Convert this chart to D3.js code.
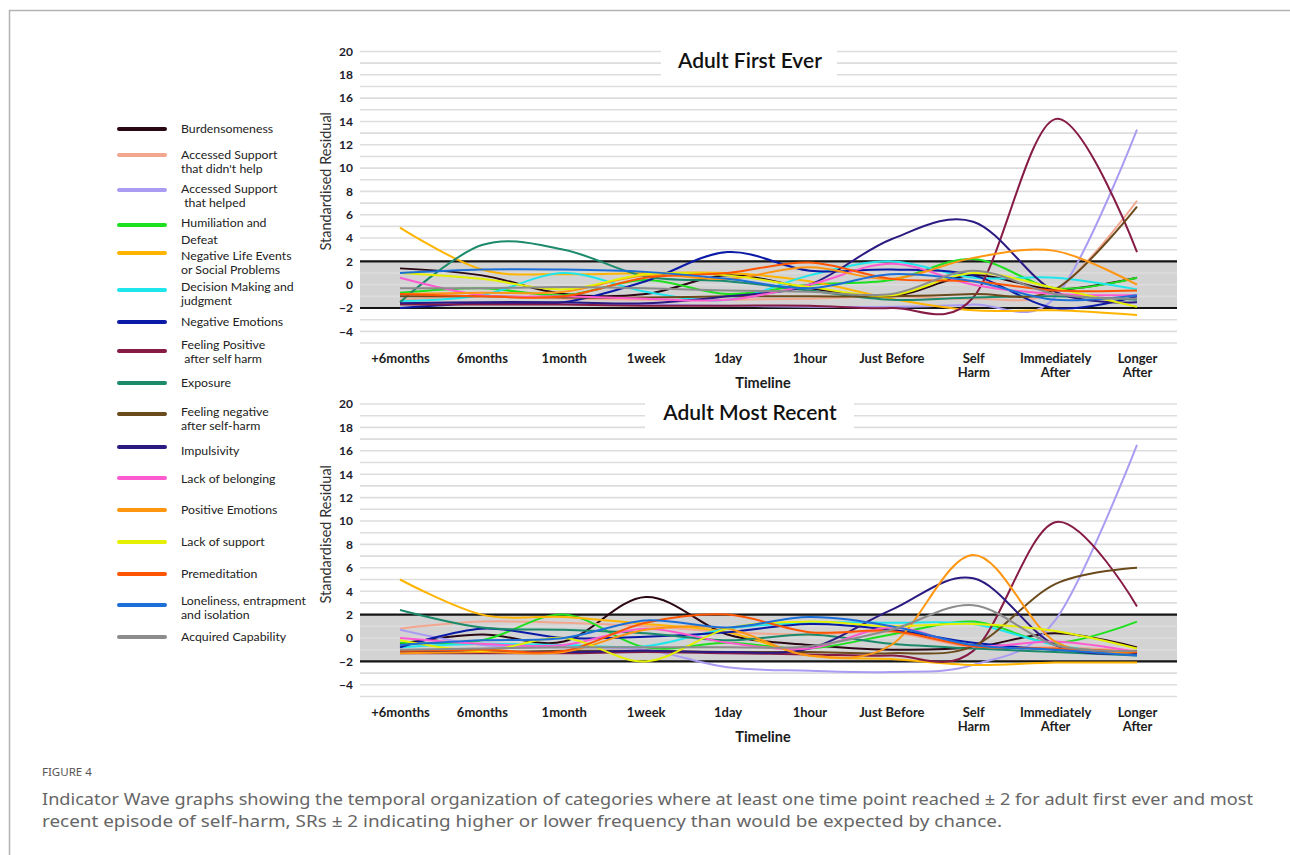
<!DOCTYPE html>
<html>
<head>
<meta charset="utf-8">
<script src="https://cdn.jsdelivr.net/npm/d3@7"></script>
<style>
  body { margin: 0; background: #fff; }
  svg { display: block; }
</style>
</head>
<body>
<svg id="fig" width="1290" height="855"></svg>
<script>
// Time points along the self-harm timeline
const timepoints = ["+6months", "6months", "1month", "1week", "1day", "1hour",
  "Just Before", "Self\nHarm", "Immediately\nAfter", "Longer\nAfter"];

// Indicator categories (legend order)
const categories = [
  "Burdensomeness",
  "Accessed Support\nthat didn't help",
  "Accessed Support\n that helped",
  "Humiliation and\nDefeat",
  "Negative Life Events\nor Social Problems",
  "Decision Making and\njudgment",
  "Negative Emotions",
  "Feeling Positive\n after self harm",
  "Exposure",
  "Feeling negative\nafter self-harm",
  "Impulsivity",
  "Lack of belonging",
  "Positive Emotions",
  "Lack of support",
  "Premeditation",
  "Loneliness, entrapment\nand isolation",
  "Acquired Capability"
];

const colors = [
  "#2a0714", "#f3a78f", "#a99cf2", "#1fe01f", "#ffb400", "#1fe6ec",
  "#0b1aa6", "#861b45", "#1b8a6b", "#6b4a1c", "#2b1a82", "#ff5bd0",
  "#ff9612", "#e4f000", "#ff5500", "#1d6fd8", "#8c8c8c"
];

const yTicks = [20, 18, 16, 14, 12, 10, 8, 6, 4, 2, 0, -2, -4];

// Standardised residuals, adult first ever episode (one row per category)
const firstEver = [
  [1.4, 0.8, -0.8, -0.8, 0.8, -0.3, -1.0, 0.8, -0.4, 0.6],
  [-1.3, -1.0, -1.2, -1.3, -1.3, -1.2, -1.0, -1.2, -0.5, 7.2],
  [-1.6, -1.6, -1.6, -1.7, -1.8, -1.9, -1.9, -1.7, -1.1, 13.3],
  [-0.7, -0.3, -0.9, 0.4, -0.8, 0.0, 0.4, 2.2, -0.3, 0.6],
  [4.9, 1.3, 0.9, 1.0, 1.0, 0.3, -1.2, -2.2, -2.2, -2.6],
  [-1.4, -0.9, 1.0, -0.6, -1.3, 0.8, 2.0, 0.6, 0.6, -0.4],
  [-2.0, -1.6, -1.5, 0.3, 2.8, 1.2, 1.3, 0.8, -2.0, -1.0],
  [-1.7, -1.7, -1.7, -1.8, -1.8, -1.8, -2.0, -1.1, 14.2, 2.8],
  [-1.5, 3.4, 3.0, 0.7, 0.3, -0.5, -1.3, -1.1, -1.0, -1.3],
  [-1.0, -1.0, -1.1, -1.1, -1.0, -1.0, -1.0, -0.8, -0.4, 6.7],
  [-1.6, -1.5, -1.5, -1.6, -1.0, 0.0, 3.9, 5.4, -0.6, -1.5],
  [0.6, -0.9, -1.0, -1.2, -1.3, 0.0, 1.8, 0.0, -0.8, -0.9],
  [-0.8, -0.7, -0.6, 0.8, 0.5, 1.5, 0.5, 2.3, 2.9, 0.0],
  [1.0, 0.5, -0.4, 0.9, 0.8, -0.2, -0.9, 1.0, -0.3, -1.9],
  [-0.8, -1.0, -1.0, 0.6, 1.0, 1.9, 0.5, 0.3, -0.5, -0.5],
  [1.0, 1.3, 1.3, 1.1, 0.5, -0.3, 0.9, 0.3, -1.3, -0.9],
  [-0.3, -0.3, -0.2, -0.3, -0.5, -0.6, -0.8, 1.2, -0.8, -1.2]
];

// Standardised residuals, adult most recent episode
const mostRecent = [
  [-0.5, 0.3, -0.3, 3.5, 0.3, -0.6, -1.0, -0.8, 0.4, -0.8],
  [0.8, 1.4, 1.3, 1.0, 0.5, 0.3, 0.5, -0.8, -0.8, -1.1],
  [0.7, -0.6, -0.8, -1.0, -2.5, -2.8, -2.9, -2.3, 1.5, 16.5],
  [-0.4, -0.2, 2.0, -0.8, -0.4, -0.9, 0.3, 1.4, -0.4, 1.4],
  [5.0, 2.0, 1.8, 1.2, 0.5, -1.5, -1.8, -2.3, -2.1, -2.1],
  [-0.8, -0.5, -0.6, -0.7, 0.8, 1.3, 1.3, 1.2, -0.6, -1.4],
  [-0.8, 0.8, 0.0, 0.1, 0.5, 1.2, 0.7, -0.4, -1.0, -1.3],
  [-1.3, -1.3, -1.3, -1.2, -1.3, -1.4, -1.5, -1.1, 9.9, 2.7],
  [2.4, 0.9, 0.7, 0.4, -0.2, 0.3, -0.5, -0.9, -1.2, -1.5],
  [-1.2, -1.2, -1.1, -1.1, -1.2, -1.2, -1.3, -0.7, 4.6, 6.0],
  [-1.2, -1.2, -1.2, -1.1, -1.2, -0.9, 2.4, 5.1, -0.6, -1.3],
  [0.0, -0.5, -0.6, 0.8, -0.4, -0.9, 0.9, -0.7, -0.3, -1.2],
  [-1.3, -1.2, -1.2, 0.7, 0.8, -1.5, -0.6, 7.1, -0.3, -1.2],
  [-0.2, -1.1, 0.0, -2.0, 0.8, 1.4, 1.0, 1.2, 0.6, -0.9],
  [-1.1, -1.0, -1.1, 1.3, 2.0, 0.5, 0.6, -0.7, -0.9, -1.2],
  [-0.6, -0.2, 0.0, 1.5, 0.9, 1.8, 1.0, -0.6, -1.0, -1.5],
  [-1.0, -0.9, -0.8, -0.8, -0.8, -0.7, 0.7, 2.8, -0.6, -1.1]
];

// ---- layout ----
const plotLeft = 360, plotRight = 1177;
const chartFont = "Lato, 'Open Sans', sans-serif";
const legendLineY = [129, 155, 190, 225, 253, 290, 322, 351, 383, 414, 447, 478, 510, 542, 574, 605, 637];
const legendTextY = [129, 155, 189, 223, 256, 287, 322, 345, 383, 412, 451, 479, 510, 542, 574, 601, 637];

const svg = d3.select("#fig");

// card border (top and left edges)
svg.append("path")
  .attr("d", "M9.5,855 V10.5 H1290")
  .attr("fill", "none")
  .attr("stroke", "#b3b3b3")
  .attr("stroke-width", 1.5);

const x = d3.scalePoint().domain(timepoints).range([400, 1137]);

const line = d3.line()
  .x((d, i) => x(timepoints[i]))
  .curve(d3.curveCardinal.tension(0));

function drawPanel(values, title, yTop, yBottom, titleBox) {
  const y = d3.scaleLinear().domain([-5, 20]).range([yBottom, yTop]);
  const g = svg.append("g");
  line.y(d => y(d));

  // significance band between -2 and +2
  g.append("rect")
    .attr("x", plotLeft).attr("width", plotRight - plotLeft)
    .attr("y", y(2)).attr("height", y(-2) - y(2))
    .attr("fill", "#d3d3d3");

  // horizontal gridlines at every unit
  g.selectAll("line.grid")
    .data(d3.range(-5, 21))
    .join("line")
    .attr("class", "grid")
    .attr("x1", plotLeft).attr("x2", plotRight)
    .attr("y1", d => y(d)).attr("y2", d => y(d))
    .attr("stroke", "#dddddd")
    .attr("stroke-width", 1.6);

  // band limits
  g.selectAll("line.limit")
    .data([2, -2])
    .join("line")
    .attr("class", "limit")
    .attr("x1", plotLeft).attr("x2", plotRight)
    .attr("y1", d => y(d)).attr("y2", d => y(d))
    .attr("stroke", "#151515")
    .attr("stroke-width", 2.2);

  // title with white backing
  g.append("rect")
    .attr("x", titleBox[0]).attr("y", yTop - 12)
    .attr("width", titleBox[1] - titleBox[0]).attr("height", 40)
    .attr("fill", "#fff");
  g.append("text")
    .attr("x", 750).attr("y", yTop + 16)
    .attr("text-anchor", "middle")
    .attr("font-family", chartFont)
    .attr("font-size", 21)
    .attr("font-weight", 600)
    .attr("fill", "#111")
    .text(title);

  // series
  g.selectAll("path.series")
    .data(values)
    .join("path")
    .attr("class", "series")
    .attr("d", d => line(d))
    .attr("fill", "none")
    .attr("stroke", (d, i) => colors[i])
    .attr("stroke-width", 2);

  // y axis
  const yAxis = g.append("g")
    .attr("transform", `translate(353,0)`)
    .call(d3.axisLeft(y).tickValues(yTicks).tickSize(0).tickPadding(0).tickFormat(d3.format("d")));
  yAxis.select(".domain").remove();
  yAxis.selectAll("text")
    .attr("font-family", chartFont)
    .attr("font-size", 12)
    .attr("font-weight", 700)
    .attr("fill", "#1c1c2c");

  g.append("text")
    .attr("transform", `translate(331,${(yTop + yBottom) / 2 - 16}) rotate(-90)`)
    .attr("text-anchor", "middle")
    .attr("font-family", chartFont)
    .attr("font-size", 14.5)
    .attr("fill", "#333")
    .text("Standardised Residual");

  // x axis with multi-line labels
  const xAxis = g.append("g")
    .attr("transform", `translate(0,${yBottom + 8})`)
    .call(d3.axisBottom(x).tickSize(0).tickPadding(0));
  xAxis.select(".domain").remove();
  xAxis.selectAll("text")
    .attr("font-family", chartFont)
    .attr("font-size", 13)
    .attr("font-weight", 700)
    .attr("fill", "#1c1c1c")
    .attr("dy", null)
    .attr("y", 12)
    .each(function (d) {
      const t = d3.select(this).text("");
      d.split("\n").forEach((part, k) => {
        t.append("tspan").attr("x", 0).attr("dy", k === 0 ? 0 : 14).text(part);
      });
    });

  g.append("text")
    .attr("x", 763).attr("y", yBottom + 45)
    .attr("text-anchor", "middle")
    .attr("font-family", chartFont)
    .attr("font-size", 14.5)
    .attr("font-weight", 700)
    .attr("fill", "#1c1c1c")
    .text("Timeline");
}

drawPanel(firstEver, "Adult First Ever", 51.5, 343, [661, 837]);
drawPanel(mostRecent, "Adult Most Recent", 404, 696.5, [645, 854]);

// legend
const legend = svg.append("g");
categories.forEach((name, i) => {
  legend.append("line")
    .attr("x1", 119).attr("x2", 165)
    .attr("y1", legendLineY[i]).attr("y2", legendLineY[i])
    .attr("stroke", colors[i])
    .attr("stroke-width", 4)
    .attr("stroke-linecap", "round");
  const t = legend.append("text")
    .attr("x", 181).attr("y", legendTextY[i] + 4)
    .attr("font-family", chartFont)
    .attr("font-size", 12.3)
    .attr("fill", "#222");
  name.split("\n").forEach((part, k) => {
    t.append("tspan")
      .attr("x", 181)
      .attr("dy", k === 0 ? 0 : (i === 3 ? 17 : 14))
      .attr("xml:space", "preserve")
      .text(part);
  });
});

// caption
svg.append("text")
  .attr("x", 42).attr("y", 776)
  .attr("font-family", "'Noto Sans', sans-serif")
  .attr("font-size", 11.5)
  .attr("fill", "#555")
  .text("FIGURE 4");

const captionLines = [
  "Indicator Wave graphs showing the temporal organization of categories where at least one time point reached \u00b1 2 for adult first ever and most",
  "recent episode of self-harm, SRs \u00b1 2 indicating higher or lower frequency than would be expected by chance."
];
const captionWidths = [1211, 960];
captionLines.forEach((txt, i) => {
  svg.append("text")
    .attr("x", 42).attr("y", 805 + i * 22)
    .attr("font-family", "'Noto Sans', sans-serif")
    .attr("font-size", 16)
    .attr("fill", "#666")
    .attr("textLength", captionWidths[i])
    .attr("lengthAdjust", "spacingAndGlyphs")
    .text(txt);
});
</script>
</body>
</html>
